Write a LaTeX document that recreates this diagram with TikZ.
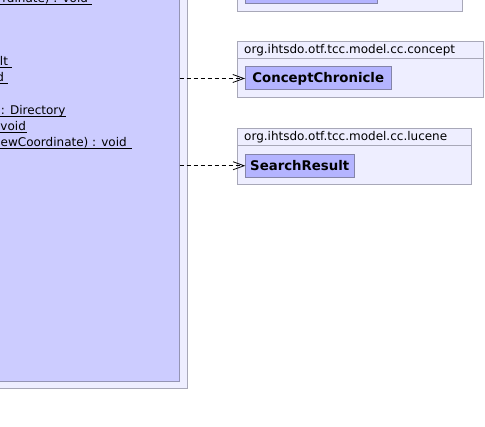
\documentclass[tikz,border=0pt]{standalone}
\usepackage{fontspec}
\setmainfont{DejaVu Sans}
\usetikzlibrary{arrows.meta}
\definecolor{pkgfill}{HTML}{EEEEFF}
\definecolor{pkgborder}{HTML}{A8A8B8}
\definecolor{clsfill}{HTML}{CCCCFF}
\definecolor{clsborder}{HTML}{9494B4}
\definecolor{reffill}{HTML}{B4B4FF}
\definecolor{refborder}{HTML}{8484A8}
\tikzset{
  pkgbox/.style={draw=pkgborder, fill=pkgfill, line width=1pt},
  clsbox/.style={draw=clsborder, fill=clsfill, line width=1pt, inner sep=0pt, outer sep=0pt},
  refbox/.style={draw=refborder, fill=reffill, line width=1pt, inner sep=0pt, outer sep=0pt,
    font=\fontsize{13.3}{15}\selectfont\bfseries},
  pkglabel/.style={inner sep=0pt, anchor=base west, font=\fontsize{12}{14}\selectfont},
  member/.style={inner sep=0pt, anchor=base east, font=\fontsize{12}{14}\selectfont},
  memberw/.style={inner sep=0pt, anchor=base west, font=\fontsize{12}{14}\selectfont},
  uline/.style={line width=1pt, black},
  dep/.style={line width=0.8pt, dash pattern=on 4pt off 3pt,
    -{Straight Barb[length=11pt,width=8pt,line width=0.8pt]}}
}
\begin{document}
\begin{tikzpicture}[x=1pt,y=-1pt]
\clip (0,0) rectangle (485,427);
\fill[white] (0,0) rectangle (485,427);
% left package and class
\draw[pkgbox] (-30,-30) rectangle (187.3,388.5);
\node[clsbox, minimum width=199.5pt, minimum height=401.5pt] (main) at (79.75,180.75) {};
% member lines (visible fragments)
\node[member] (m1) at (88.2,2.5) {rdinate) : void};
\draw[uline] (0,5) -- (92,5);
\node[member] (m2) at (8.2,65.5) {lt};
\draw[uline] (0,68) -- (12,68);
\node[member] (m3) at (4.2,81.5) {d};
\draw[uline] (0,84) -- (8,84);
\node[memberw] (m4) at (0.8,114.5) {: Directory};
\draw[uline] (0,117) -- (66,117);
\node[memberw] (m5) at (0.3,130.5) {void};
\draw[uline] (0,133) -- (27,133);
\node[memberw] (m6) at (0.5,146.5) {ewCoordinate) : void};
\draw[uline] (0,149) -- (132,149);
% top right package (cut off)
\draw[pkgbox] (237.5,-30) rectangle (462.5,11.5);
\node[refbox, minimum width=132.5pt, minimum height=33.5pt] (topcls) at (311.25,-13.25) {};
% concept package
\draw[pkgbox] (237.5,41.5) rectangle (483,98);
\draw[pkgbox] (237.5,41.5) rectangle (483,59);
\node[pkglabel] (lcon) at (244,54) {org.ihtsdo.otf.tcc.model.cc.concept};
\node[refbox, minimum width=146.5pt, minimum height=23pt] (cc) at (318.25,78.5) {ConceptChronicle};
% lucene package
\draw[pkgbox] (237.5,128.5) rectangle (471.5,184.5);
\draw[pkgbox] (237.5,128.5) rectangle (471.5,146);
\node[pkglabel] (lluc) at (244,141) {org.ihtsdo.otf.tcc.model.cc.lucene};
\node[refbox, minimum width=109pt, minimum height=23pt] (sr) at (299.75,165.75) {SearchResult};
% dependencies
\draw[dep] (main.east |- cc.west) -- (cc.west);
\draw[dep] (main.east |- sr.west) -- (sr.west);
\end{tikzpicture}
\end{document}
